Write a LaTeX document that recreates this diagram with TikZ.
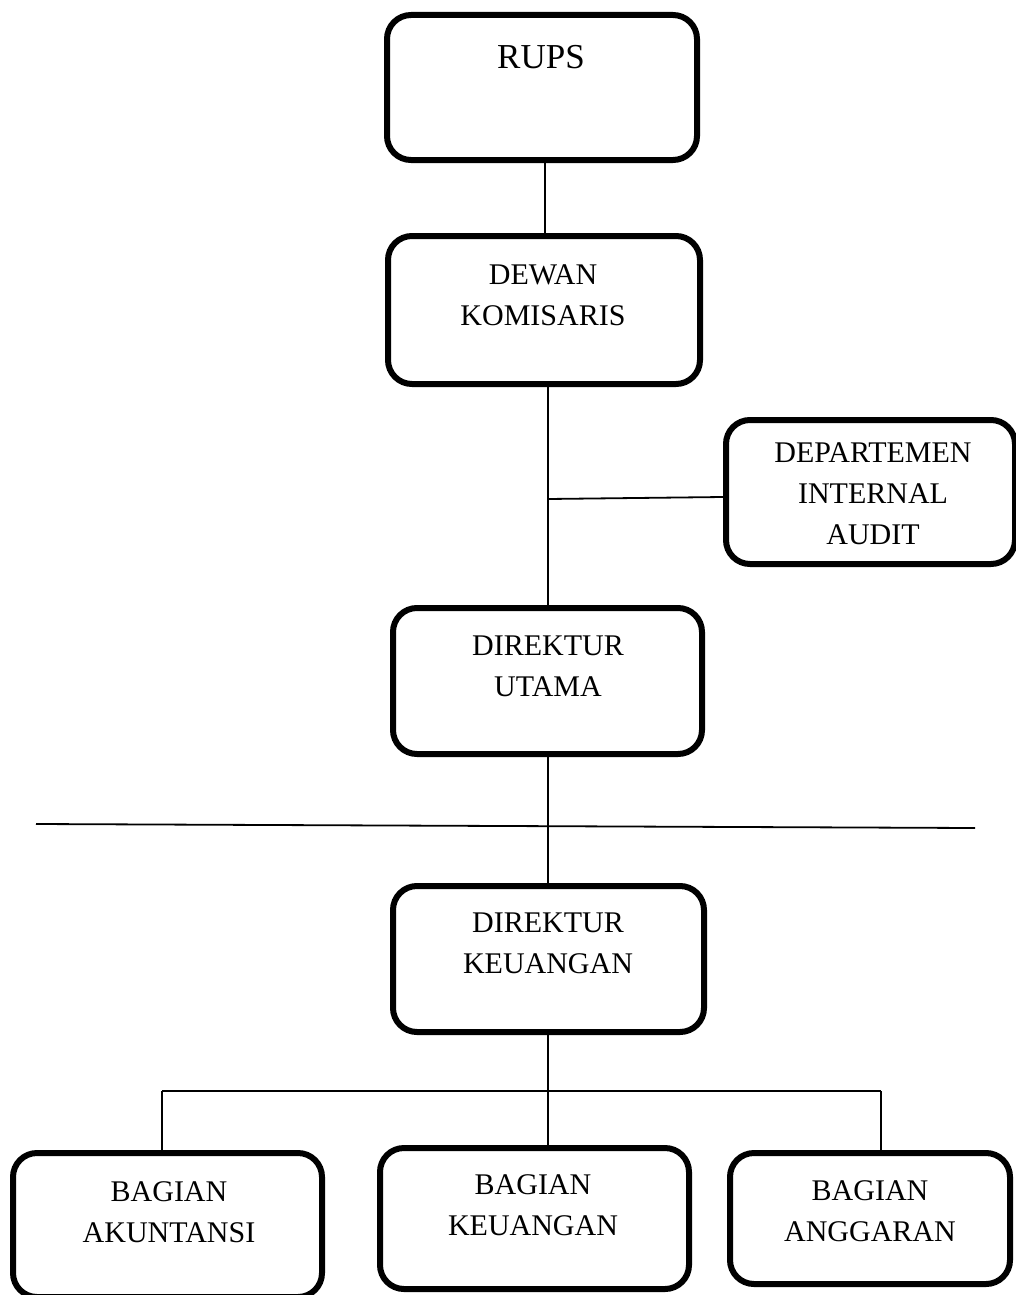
\documentclass[tikz,border=0pt]{standalone}
\usepackage{fontspec}
\setmainfont{Liberation Serif}
\usetikzlibrary{calc}
\begin{document}
\begin{tikzpicture}[x=1pt,y=-1pt,
  unitbox/.style={draw=black, fill=white, line width=6pt, rounded corners=24pt,
    rectangle, inner sep=0pt, minimum width=#1},
  label text/.style={align=center, inner sep=0pt,
    font=\fontsize{30}{41}\selectfont},
  link/.style={draw=black, line width=1.8pt}]
\useasboundingbox (0,0) rectangle (1016,1295);

% junction points
\coordinate (ja)   at (548,499);
\coordinate (sepL) at (36,824);
\coordinate (sepR) at (975,828);
\coordinate (brL)  at (162,1091);
\coordinate (brM)  at (548,1091);
\coordinate (brR)  at (881,1091);

% boxes of the organisation chart
\node[unitbox=310pt, minimum height=145pt] (rups)   at (542,87.5)   {};
\node[unitbox=312pt, minimum height=148pt] (dewan)  at (544,310)    {};
\node[unitbox=289pt, minimum height=144pt] (audit)  at (870.5,492)  {};
\node[unitbox=309pt, minimum height=146pt] (utama)  at (547.5,681)  {};
\node[unitbox=311pt, minimum height=146pt] (dirkeu) at (548.5,959)  {};
\node[unitbox=309pt, minimum height=144pt] (akun)   at (167.5,1225) {};
\node[unitbox=309pt, minimum height=141pt] (bkeu)   at (534.5,1218.5) {};
\node[unitbox=280pt, minimum height=131pt] (angg)   at (870,1218.5) {};

% labels
\node[label text, font=\fontsize{35}{41}\selectfont] (trups) at (541,57) {RUPS};
\node[label text] (tdewan)  at (543,295)    {DEWAN\\KOMISARIS};
\node[label text] (taudit)  at (873,493.5)  {DEPARTEMEN\\INTERNAL\\AUDIT};
\node[label text] (tutama)  at (548,666.5)  {DIREKTUR\\UTAMA};
\node[label text] (tdirkeu) at (548,943)    {DIREKTUR\\KEUANGAN};
\node[label text] (takun)   at (169,1212.5) {BAGIAN\\AKUNTANSI};
\node[label text] (tbkeu)   at (533,1205)   {BAGIAN\\KEUANGAN};
\node[label text] (tangg)   at (870,1211)   {BAGIAN\\ANGGARAN};

% vertical chain
\draw[link] (rups.south -| 545,0) -- (dewan.north -| 545,0);
\draw[link] (dewan.south -| ja) -- (utama.north -| ja);
\draw[link] (ja) -- ($(audit.west)+(0,5)$);
\draw[link] (utama.south -| ja) -- (dirkeu.north -| ja);
% separator line
\draw[link] (sepL) -- (sepR);
% branch to the sections
\draw[link] (dirkeu.south -| brM) -- (brM);
\draw[link] (brL) -- (brR);
\draw[link] (brL) -- (brL |- akun.north);
\draw[link] (brM) -- (brM |- bkeu.north);
\draw[link] (brR) -- (brR |- angg.north);
\end{tikzpicture}
\end{document}
